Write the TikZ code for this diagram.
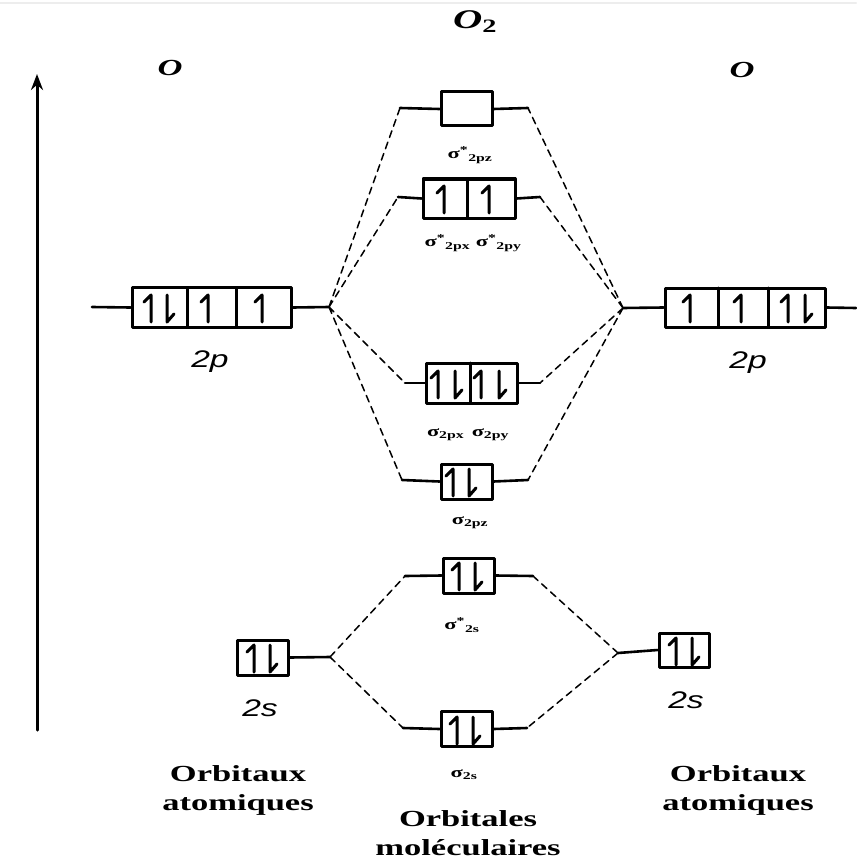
\documentclass[tikz,border=0pt]{standalone}
\usepackage{fontspec}
\setmainfont{Liberation Serif}[FakeStretch=1.5]
\newfontfamily\orbsans{Liberation Sans}[FakeStretch=1.4]
\usetikzlibrary{arrows.meta,positioning}

\tikzset{
  orb/.style={draw,line width=3pt,inner sep=0pt},
  lev/.style={line width=2.6pt},
  corr/.style={line width=1.5pt,dash pattern=on 7pt off 5pt},
  elec/.style={line width=3pt,line cap=round,line join=round},
  upel/.pic={\draw[elec] (-7,-6) -- (0,-13) -- (0,14);},
  dnel/.pic={\draw[elec] (0,-13) -- (0,14) -- (7,6);},
  siglab/.style={font=\fontsize{15}{17}\selectfont\bfseries},
  aolab/.style={font=\orbsans\itshape\fontsize{24}{26}\selectfont},
  atlab/.style={font=\fontsize{23}{27}\selectfont\bfseries\itshape},
  boxlab/.style={font=\fontsize{23}{29}\selectfont\bfseries,align=center},
}

\begin{document}
\begin{tikzpicture}[x=1pt,y=-1pt,line cap=round,line join=round]
\useasboundingbox (0,0) rectangle (856,861);
\draw[black!7,line width=2pt] (0,3) -- (856,3);

\coordinate (axbot) at (37,730);
\coordinate (axtop) at (37,74);
\draw[line width=3pt,-{Stealth[length=16pt,width=12pt]}] (axbot) -- (axtop);

\node[atlab] (atL) at (170,68) {O};
\node[atlab] (atR) at (742,70) {O};
\node[atlab,font=\fontsize{27}{30}\selectfont\bfseries] (mol) at (475,22) {\itshape O\textsubscript{\upshape 2}};

% atomic orbitals, left
\node[orb,minimum width=159pt,minimum height=40pt] (p2L) at (211.5,307.5) {};
\draw[line width=3pt] (187,288) -- (187,327) (236,288) -- (236,327);
\pic at (151,308) {upel}; \pic at (167,308) {dnel};
\pic at (208,308) {upel}; \pic at (262,308) {upel};
\coordinate (p2Ll) at (92,307);
\coordinate (p2Lr) at (329,307);
\draw[lev] (p2Ll) -- (p2L.west) (p2L.east) -- (p2Lr);
\node[aolab] (p2Llab) at (210,362) {2p};

\node[orb,minimum width=51pt,minimum height=35pt] (s2L) at (262.5,657.5) {};
\pic at (254,658) {upel}; \pic at (270,658) {dnel};
\coordinate (s2Lr) at (330,657);
\draw[lev] (s2L.east) -- (s2Lr);
\node[aolab] (s2Llab) at (260,708) {2s};

% atomic orbitals, right
\node[orb,minimum width=160pt,minimum height=39pt] (p2R) at (745,307.5) {};
\draw[line width=3pt] (718,288) -- (718,327) (768,288) -- (768,327);
\pic at (690,308) {upel}; \pic at (741,308) {upel};
\pic at (788,308) {upel}; \pic at (805,308) {dnel};
\coordinate (p2Rl) at (623,308);
\coordinate (p2Rr) at (856,308);
\draw[lev] (p2Rl) -- (p2R.west) (p2R.east) -- (p2Rr);
\node[aolab] (p2Rlab) at (748,363) {2p};

\node[orb,minimum width=50pt,minimum height=34pt] (s2R) at (684,650) {};
\pic at (676,651) {upel}; \pic at (692,651) {dnel};
\coordinate (s2Rl) at (618,653);
\draw[lev] (s2Rl) -- (s2R.west);
\node[aolab] (s2Rlab) at (686,700) {2s};

% molecular orbitals
\node[orb,minimum width=51pt,minimum height=34pt] (ss2pz) at (466.5,109) {};
\coordinate (ss2pzL) at (400,108);
\coordinate (ss2pzR) at (528,108);
\draw[lev] (ss2pzL) -- (ss2pz.west) (ss2pz.east) -- (ss2pzR);
\node[siglab] (ss2pzlab) at (470,155) {σ\textsuperscript{*}\textsubscript{2pz}};

\node[orb,minimum width=92pt,minimum height=39pt] (ss2pxy) at (469,198.5) {};
\draw[line width=3pt] (467,179) -- (467,218);
\pic at (444,199) {upel}; \pic at (489,199) {upel};
\coordinate (ss2pxyL) at (398,197);
\coordinate (ss2pxyR) at (540,197);
\draw[lev] (ss2pxyL) -- (ss2pxy.west) (ss2pxy.east) -- (ss2pxyR);
\node[siglab] (ss2pxylab) at (473,243) {σ\textsuperscript{*}\textsubscript{2px} σ\textsuperscript{*}\textsubscript{2py}};

\node[orb,minimum width=91pt,minimum height=40pt] (pi2pxy) at (471.5,383) {};
\draw[line width=3pt] (470,363) -- (470,403);
\pic at (438,384) {upel}; \pic at (455,384) {dnel};
\pic at (481,384) {upel}; \pic at (499,384) {dnel};
\coordinate (pi2pxyL) at (405,383);
\coordinate (pi2pxyR) at (540,383);
\draw[lev] (pi2pxyL) -- (pi2pxy.west) (pi2pxy.east) -- (pi2pxyR);
\node[siglab] (pi2pxylab) at (468,435) {σ\textsubscript{2px}\enspace σ\textsubscript{2py}};

\node[orb,minimum width=51pt,minimum height=35pt] (s2pz) at (466.5,481.5) {};
\pic at (453,482) {upel}; \pic at (469,482) {dnel};
\coordinate (s2pzL) at (402,480);
\coordinate (s2pzR) at (528,480);
\draw[lev] (s2pzL) -- (s2pz.west) (s2pz.east) -- (s2pzR);
\node[siglab] (s2pzlab) at (470,523) {σ\textsubscript{2pz}};

\node[orb,minimum width=51pt,minimum height=35pt] (ss2s) at (468.5,575.5) {};
\pic at (459,576) {upel}; \pic at (475,576) {dnel};
\coordinate (ss2sL) at (405,576);
\coordinate (ss2sR) at (533,576);
\draw[lev] (ss2sL) -- (ss2s.west) (ss2s.east) -- (ss2sR);
\node[siglab] (ss2slab) at (462,625) {σ\textsuperscript{*}\textsubscript{2s}};

\node[orb,minimum width=51pt,minimum height=35pt] (s2s) at (466.5,729) {};
\pic at (457,730) {upel}; \pic at (473,730) {dnel};
\coordinate (s2sL) at (403,728);
\coordinate (s2sR) at (527,728);
\draw[lev] (s2sL) -- (s2s.west) (s2s.east) -- (s2sR);
\node[siglab] (s2slab) at (464,775) {σ\textsubscript{2s}};

% correlation lines
\draw[corr] (p2Lr) -- (ss2pzL) (p2Lr) -- (ss2pxyL) (p2Lr) -- (pi2pxyL) (p2Lr) -- (s2pzL);
\draw[corr] (p2Rl) -- (ss2pzR) (p2Rl) -- (ss2pxyR) (p2Rl) -- (pi2pxyR) (p2Rl) -- (s2pzR);
\draw[corr] (s2Lr) -- (ss2sL) (s2Lr) -- (s2sL);
\draw[corr] (s2Rl) -- (ss2sR) (s2Rl) -- (s2sR);

\node[boxlab] (aoL) at (238,790) {Orbitaux\\atomiques};
\node[boxlab] (aoR) at (738,790) {Orbitaux\\atomiques};
\node[boxlab] (mo) at (468,833) {Orbitales\\moléculaires};
\end{tikzpicture}
\end{document}
